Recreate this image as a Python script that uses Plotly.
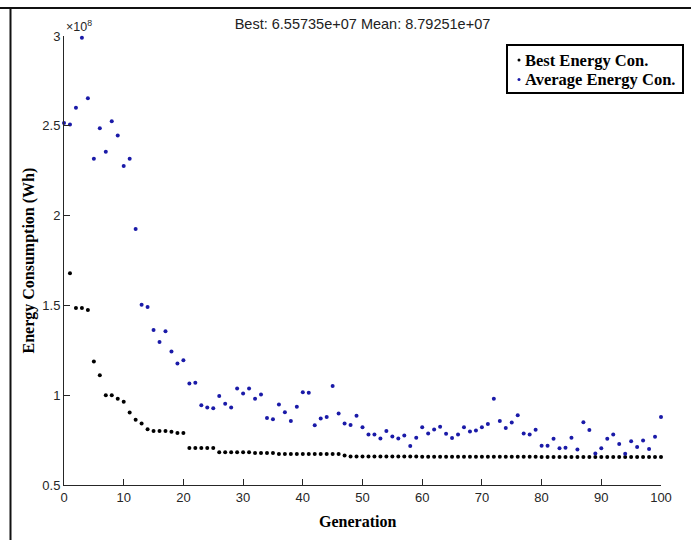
import plotly.graph_objects as go

# ---------------- data (values in units of 1e8 Wh) ----------------
mean_generations = list(range(0, 101))
best_generations = list(range(1, 101))

best_energy_e8 = [
    1.679, 1.485, 1.485, 1.474, 1.187, 1.111, 1.000, 1.000, 0.980,
    0.963, 0.904, 0.863, 0.843, 0.811, 0.800, 0.800, 0.800, 0.797, 0.790,
    0.790, 0.706, 0.706, 0.706, 0.706, 0.706, 0.682, 0.682, 0.682, 0.682,
    0.682, 0.682, 0.678, 0.678, 0.678, 0.678, 0.672, 0.672, 0.672, 0.672,
    0.672, 0.672, 0.672, 0.672, 0.672, 0.672, 0.672, 0.664, 0.658, 0.658,
    0.658, 0.658, 0.658, 0.658, 0.658, 0.658, 0.658, 0.658, 0.658, 0.658,
    0.657, 0.657, 0.657, 0.657, 0.657, 0.657, 0.657, 0.657, 0.657, 0.657,
    0.657, 0.657, 0.657, 0.657, 0.657, 0.657, 0.657, 0.657, 0.657, 0.657,
    0.6557, 0.6557, 0.6557, 0.6557, 0.6557, 0.6557, 0.6557, 0.6557, 0.6557, 0.6557,
    0.6557, 0.6557, 0.6557, 0.6557, 0.6557, 0.6557, 0.6557, 0.6557, 0.6557, 0.6557,
    0.655735,
]

mean_energy_e8 = [
    2.515, 2.507, 2.600, 2.990, 2.654, 2.317, 2.487, 2.356, 2.526, 2.446,
    2.276, 2.317, 1.926, 1.504, 1.491, 1.363, 1.296, 1.356, 1.243, 1.176,
    1.194, 1.065, 1.069, 0.944, 0.931, 0.928, 0.996, 0.952, 0.931, 1.037,
    1.010, 1.037, 0.980, 1.004, 0.873, 0.866, 0.948, 0.905, 0.856, 0.936,
    1.017, 1.013, 0.832, 0.870, 0.879, 1.051, 0.898, 0.843, 0.834, 0.885,
    0.821, 0.781, 0.781, 0.759, 0.800, 0.770, 0.759, 0.776, 0.717, 0.763,
    0.822, 0.787, 0.809, 0.824, 0.785, 0.761, 0.781, 0.822, 0.798, 0.804,
    0.822, 0.839, 0.980, 0.857, 0.817, 0.848, 0.889, 0.787, 0.781, 0.807,
    0.718, 0.718, 0.757, 0.704, 0.707, 0.763, 0.698, 0.850, 0.806, 0.676,
    0.704, 0.757, 0.781, 0.728, 0.674, 0.744, 0.711, 0.748, 0.700, 0.768,
    0.879251,
]

scale = 1e8
best_energy = [v * scale for v in best_energy_e8]
mean_energy = [v * scale for v in mean_energy_e8]

y_tick_values = [0.5e8, 1.0e8, 1.5e8, 2.0e8, 2.5e8, 3.0e8]
y_tick_labels = ["0.5", "1", "1.5", "2", "2.5", "3"]
x_tick_values = list(range(0, 101, 10))

title_text = "Best: 6.55735e+07 Mean: 8.79251e+07"
legend_labels = ["Best Energy Con.", "Average Energy Con."]

BLUE = "#1a1aa8"
AXC = "#262626"

# ---------------- figure ----------------
fig = go.Figure()
fig.add_trace(go.Scatter(x=best_generations, y=best_energy, mode="markers",
                         marker=dict(color="black", size=4), name=legend_labels[0],
                         cliponaxis=False))
fig.add_trace(go.Scatter(x=mean_generations, y=mean_energy, mode="markers",
                         marker=dict(color=BLUE, size=4), name=legend_labels[1],
                         cliponaxis=False))

L, R, T, B = 64, 30, 36, 55
W, H = 691, 540
PW = W - L - R
PH = H - T - B


def px(xp):
    return (xp - L) / PW


def py(yp):
    return (H - B - yp) / PH


fig.update_layout(
    width=W, height=H,
    margin=dict(l=L, r=R, t=T, b=B),
    paper_bgcolor="white", plot_bgcolor="white",
    showlegend=False,
    font=dict(family="Liberation Sans, Arial", size=13, color=AXC),
    title=dict(text=title_text, xref="paper", x=0.5, xanchor="center",
               yref="container", y=1 - 24 / H, yanchor="middle",
               font=dict(family="Liberation Sans, Arial", size=14.5, color="#222222")),
)

fig.update_xaxes(range=[0, 100], tickvals=x_tick_values, ticks="inside", ticklen=6,
                 tickcolor=AXC, showline=True, linecolor=AXC, linewidth=1,
                 showgrid=False, zeroline=False, mirror=False,
                 tickfont=dict(size=13, color=AXC))
fig.update_yaxes(range=[0.5e8, 3.0e8], tickvals=y_tick_values, ticktext=y_tick_labels,
                 ticks="inside", ticklen=6, tickcolor=AXC, showline=True,
                 linecolor=AXC, linewidth=1, showgrid=False, zeroline=False,
                 mirror=False, tickfont=dict(size=13, color=AXC))

# exponent label
fig.add_annotation(xref="paper", yref="paper", x=0, y=1, xanchor="left", yanchor="bottom",
                   showarrow=False, text="\u00d710<sup>8</sup>",
                   font=dict(size=12.5, color=AXC))

# axis titles
fig.add_annotation(xref="paper", yref="paper", x=px(28), y=0.5, xanchor="center",
                   yanchor="middle", textangle=-90, showarrow=False,
                   text="<b>Energy Consumption (Wh)</b>",
                   font=dict(family="Liberation Serif, Times New Roman", size=16, color="black"))
fig.add_annotation(xref="paper", yref="paper", x=px(357), y=py(521), xanchor="center",
                   yanchor="middle", showarrow=False, text="<b>Generation</b>",
                   font=dict(family="Liberation Serif, Times New Roman", size=16, color="black"))

# legend box (drawn)
fig.add_shape(type="rect", xref="paper", yref="paper", x0=px(507), x1=px(683),
              y0=py(93), y1=py(45), line=dict(color="black", width=2), fillcolor="white")
rows = [(60, "black", legend_labels[0]), (79.5, BLUE, legend_labels[1])]
for yy, col, lab in rows:
    fig.add_shape(type="circle", xref="paper", yref="paper",
                  x0=px(517.5), x1=px(520.5), y0=py(yy + 1.5), y1=py(yy - 1.5),
                  fillcolor=col, line=dict(color=col, width=0))
    fig.add_annotation(xref="paper", yref="paper", x=px(523), y=py(yy), xanchor="left",
                       yanchor="middle", showarrow=False, text="<b>%s</b>" % lab,
                       font=dict(family="Liberation Serif, Times New Roman", size=16.5,
                                 color="black"))

# outer frame lines (top and left)
fig.add_shape(type="line", xref="paper", yref="paper", x0=px(0), x1=px(W),
              y0=py(8), y1=py(8), line=dict(color="#111111", width=2))
fig.add_shape(type="line", xref="paper", yref="paper", x0=px(10.5), x1=px(10.5),
              y0=py(8), y1=py(H + 5), line=dict(color="#111111", width=2))

fig.write_html("out.html")
